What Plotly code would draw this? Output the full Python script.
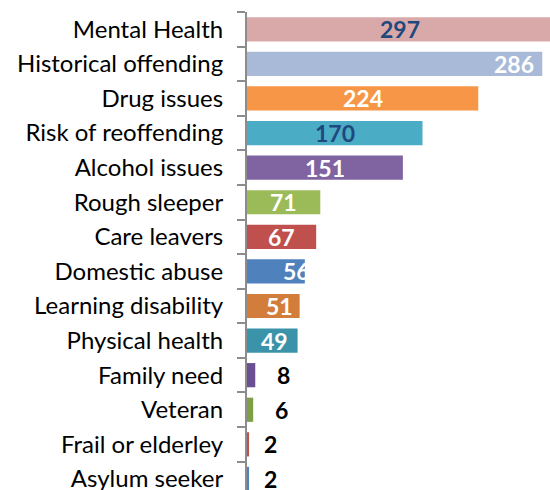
import plotly.graph_objects as go

categories = ["Mental Health", "Historical offending", "Drug issues", "Risk of reoffending",
              "Alcohol issues", "Rough sleeper", "Care leavers", "Domestic abuse",
              "Learning disability", "Physical health", "Family need", "Veteran",
              "Frail or elderley", "Asylum seeker"]
values = [297, 286, 224, 170, 151, 71, 67, 56, 51, 49, 8, 6, 2, 2]
labels = ["297", "286", "224", "170", "151", "71", "67", "56", "51", "49", "8", "6", "2", "2"]

colors = ["#D9A9AA", "#A9BAD8", "#F79646", "#4BACC6", "#8064A2", "#9BBB59", "#C0504D",
          "#4F81BD", "#D27D3C", "#3A93A8", "#6B4F93", "#7E9F45", "#C0504D", "#4F81BD"]
# label placement style: (mode, xshift px, colour)
label_style = [("center", 0, "#1F497D"), ("end", -6, "white"), ("center", 0, "white"),
               ("center", 0, "#1F497D"), ("center", 0, "white"), ("center", 0, "white"),
               ("center", 0, "white"), ("end", 7, "white"), ("end", -5, "white"),
               ("end", -8, "white"), ("out", 20, "black"), ("out", 20, "black"),
               ("out", 13, "black"), ("out", 13, "black")]

FONT = "Lato"

fig = go.Figure(go.Bar(
    y=categories, x=values, orientation="h",
    marker=dict(color=colors, line=dict(width=0)),
    hoverinfo="skip",
))

for cat, v, lab, (mode, dx, col) in zip(categories, values, labels, label_style):
    if mode == "center":
        x, anchor = v / 2, "center"
    elif mode == "end":
        x, anchor = v, "right"
    else:
        x, anchor = v, "left"
    fig.add_annotation(x=x, y=cat, text=lab, showarrow=False, xanchor=anchor,
                       xshift=dx, yshift=0,
                       font=dict(family=FONT, size=23, color=col, weight="bold"))

fig.update_layout(
    width=550, height=490,
    margin=dict(l=247, r=0, t=12, b=0, autoexpand=False),
    paper_bgcolor="white", plot_bgcolor="white",
    bargap=0.3,
    showlegend=False,
    font=dict(family=FONT, size=22, color="black"),
    xaxis=dict(range=[0, 293.5], visible=False, fixedrange=True),
    yaxis=dict(categoryorder="array", categoryarray=categories, automargin=False,
               range=[13.32, -0.5], showline=True, linecolor="#8C8C8C", linewidth=2,
               ticks="outside", tickson="boundaries", ticklen=8, tickcolor="#8C8C8C",
               tickwidth=1.5, ticklabelstandoff=17, showgrid=False, zeroline=False,
               tickfont=dict(family=FONT, size=24, color="black")),
)

fig.write_html("out.html", config={"displayModeBar": False},
               post_script="document.body.style.margin='0';document.body.style.overflow='hidden';")
